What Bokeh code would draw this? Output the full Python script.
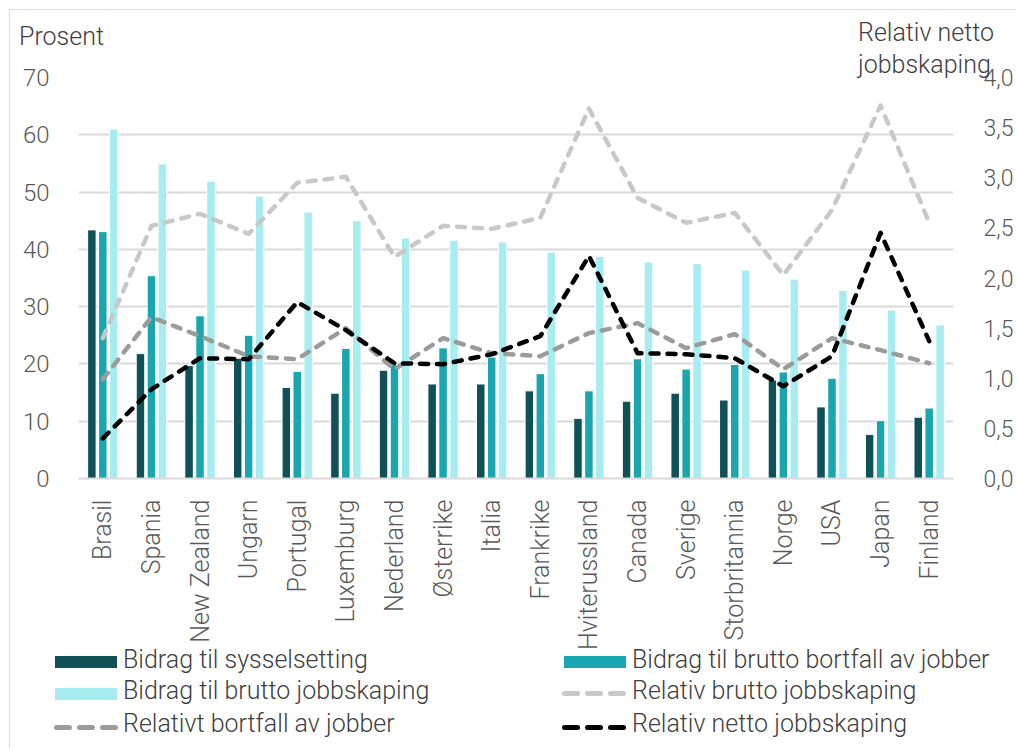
import math
from bokeh.plotting import figure
from bokeh.layouts import column
from bokeh.models import (FactorRange, Range1d, LinearAxis, FixedTicker, Div,
                          ColumnDataSource)
from bokeh.transform import dodge
from bokeh.embed import file_html
from bokeh.resources import INLINE

countries = ["Brasil", "Spania", "New Zealand", "Ungarn", "Portugal", "Luxemburg",
             "Nederland", "Østerrike", "Italia", "Frankrike", "Hviterussland", "Canada",
             "Sverige", "Storbritannia", "Norge", "USA", "Japan", "Finland"]
sysselsetting = [43.4, 21.8, 19.7, 21.0, 15.9, 14.9, 18.9, 16.5, 16.5, 15.3, 10.5, 13.5,
                 14.9, 13.7, 17.2, 12.5, 7.7, 10.7]
brutto_bortfall = [43.1, 35.4, 28.4, 25.0, 18.7, 22.7, 19.9, 22.8, 21.2, 18.3, 15.3, 20.9,
                   19.1, 19.9, 18.6, 17.5, 10.1, 12.3]
brutto_jobbskaping = [61.0, 54.9, 51.9, 49.3, 46.5, 45.0, 42.0, 41.6, 41.3, 39.5, 38.8, 37.8,
                      37.5, 36.4, 34.8, 32.8, 29.4, 26.8]
rel_brutto = [1.40, 2.52, 2.64, 2.44, 2.95, 3.01, 2.21, 2.52, 2.49, 2.60, 3.69, 2.80,
              2.55, 2.65, 2.03, 2.68, 3.72, 2.55]
rel_bortfall = [0.99, 1.61, 1.42, 1.22, 1.19, 1.50, 1.09, 1.40, 1.25, 1.22, 1.45, 1.55,
                1.30, 1.44, 1.09, 1.40, 1.28, 1.15]
rel_netto = [0.40, 0.89, 1.20, 1.19, 1.76, 1.48, 1.15, 1.14, 1.24, 1.42, 2.22, 1.25,
             1.24, 1.20, 0.92, 1.22, 2.45, 1.37]
left_ticks = [0, 10, 20, 30, 40, 50, 60, 70]
right_ticks = [0, 0.5, 1.0, 1.5, 2.0, 2.5, 3.0, 3.5, 4.0]
right_tick_labels = ["0,0", "0,5", "1,0", "1,5", "2,0", "2,5", "3,0", "3,5", "4,0"]
left_title = "Prosent"
right_title = ["Relativ netto", "jobbskaping"]
series_names = ["Bidrag til sysselsetting", "Bidrag til brutto bortfall av jobber",
                "Bidrag til brutto jobbskaping", "Relativ brutto jobbskaping",
                "Relativt bortfall av jobber", "Relativ netto jobbskaping"]

FONT = "Roboto Light"
CSSFONT = "'Roboto Light', Roboto, sans-serif"
TXT = "#595959"
TTL = "#404040"
C_DARK, C_MID, C_LIGHT = "#0f5157", "#19a6ae", "#a6ecf0"
C_GL, C_GM, C_BK = "#c8c9c7", "#9a9c99", "#000000"
W = 1016
H1, H2 = 64, 588
H3 = 748 - H1 - H2


def txt(s, left, top, size):
    return (f'<span style="position:absolute;left:{left}px;top:{top}px;'
            f'font-size:{size}px;line-height:30px;white-space:nowrap">{s}</span>')


def box(left, top, w, h, color, radius=0):
    return (f'<span style="position:absolute;left:{left}px;top:{top}px;width:{w}px;'
            f'height:{h}px;background:{color};border-radius:{radius}px"></span>')


# ---------- header: axis titles ----------
head_html = (f'<div style="position:relative;width:{W}px;height:{H1}px;'
             f'font-family:{CSSFONT};font-weight:300;color:{TTL}">'
             + txt(left_title, 19, 22, 25)
             + txt(right_title[0], 858, 18, 25)
             + txt(right_title[1], 858, 50, 25)
             + '</div>')
hd = Div(text=head_html, width=W, height=H1, margin=0,
         styles={"overflow": "visible", "z-index": "2"})

# ---------- main chart ----------
src = ColumnDataSource(dict(country=countries, s=sysselsetting, b=brutto_bortfall,
                            j=brutto_jobbskaping, rb=rel_brutto, rf=rel_bortfall,
                            rn=rel_netto))
p = figure(x_range=FactorRange(*countries, range_padding=0), y_range=Range1d(0, 70),
           width=W, height=H2, output_backend="svg", toolbar_location=None,
           min_border_left=78, min_border_right=58, min_border_top=13,
           min_border_bottom=170, outline_line_color=None, border_fill_color=None)
p.extra_y_ranges = {"right": Range1d(0, 4)}

w = 0.175
for col, colr, off in [("s", C_DARK, -0.225), ("b", C_MID, 0.0), ("j", C_LIGHT, 0.225)]:
    p.vbar(x=dodge("country", off, range=p.x_range), top=col, width=w, source=src,
           fill_color=colr, line_color="white", line_width=1)

lk = dict(line_width=4.5, line_dash="8 9", line_cap="round", line_join="round")
for col, colr in [("rb", C_GL), ("rf", C_GM), ("rn", C_BK)]:
    p.line("country", col, source=src, y_range_name="right", line_color=colr, **lk)

p.yaxis.ticker = FixedTicker(ticks=left_ticks)
ya = p.yaxis[0]
ya.axis_line_color = None
ya.major_tick_line_color = None
ya.minor_tick_line_color = None
ya.major_label_standoff = 23
ya.major_label_text_font = FONT
ya.major_label_text_font_size = "24px"
ya.major_label_text_color = TXT

ra = LinearAxis(y_range_name="right", ticker=FixedTicker(ticks=right_ticks),
                major_label_overrides={t: l for t, l in zip(right_ticks, right_tick_labels)},
                axis_line_color=None, major_tick_line_color=None, minor_tick_line_color=None,
                major_label_standoff=24, major_label_text_font=FONT,
                major_label_text_font_size="23px", major_label_text_color=TXT)
p.add_layout(ra, "right")

xa = p.xaxis[0]
xa.major_label_orientation = math.pi / 2
xa.axis_line_color = "#d9d9d9"
xa.axis_line_width = 2
xa.major_tick_line_color = None
xa.minor_tick_line_color = None
xa.major_label_standoff = 15
xa.major_label_text_font = FONT
xa.major_label_text_font_size = "25px"
xa.major_label_text_color = TXT

p.xgrid.grid_line_color = None
p.ygrid.grid_line_color = "#d9d9d9"
p.ygrid.grid_line_width = 2
p.ygrid.ticker = FixedTicker(ticks=left_ticks)

# ---------- legend strip ----------
def dashes(left, top, color):
    return "".join(box(left + k * 23, top, 18, 5, color, 3) for k in range(3))

rt = [-7, 24, 57]
leg_html = (f'<div style="position:relative;width:{W}px;height:{H3}px;'
            f'font-family:{CSSFONT};font-weight:300;color:{TTL}">'
            + box(55, 4, 62, 12, C_DARK) + txt(series_names[0], 123, rt[0], 25)
            + box(55, 36, 62, 12, C_LIGHT) + txt(series_names[2], 123, rt[1], 25)
            + dashes(54, 73, C_GM) + txt(series_names[4], 123, rt[2], 25)
            + box(564, 4, 62, 12, C_MID) + txt(series_names[1], 632, rt[0], 25)
            + dashes(562, 39, C_GL) + txt(series_names[3], 632, rt[1], 25)
            + dashes(562, 73, C_BK) + txt(series_names[5], 632, rt[2], 25)
            + '</div>')
lg = Div(text=leg_html, width=W, height=H3, margin=0, styles={"overflow": "visible"})

page = column(hd, p, lg, spacing=0, styles={
    "background-image": "linear-gradient(#d9d9d9,#d9d9d9), linear-gradient(#d9d9d9,#d9d9d9)",
    "background-size": "1px 100%, 100% 1px",
    "background-position": "9px 9px, 9px 9px",
    "background-repeat": "no-repeat",
})
open("out.html", "w").write(file_html(page, INLINE))
